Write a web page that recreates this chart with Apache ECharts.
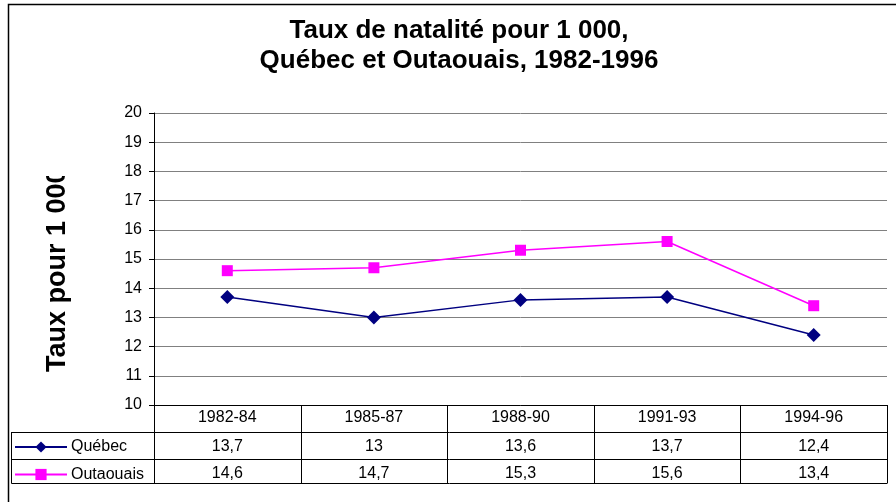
<!DOCTYPE html>
<html>
<head>
<meta charset="utf-8">
<script src="https://cdn.jsdelivr.net/npm/echarts@6/dist/echarts.min.js"></script>
<style>
html,body{margin:0;padding:0;background:#fff;}
#c{width:896px;height:502px;}
</style>
</head>
<body>
<div id="c"></div>
<script>
var categories = ['1982-84', '1985-87', '1988-90', '1991-93', '1994-96'];
var quebec = [13.7, 13.0, 13.6, 13.7, 12.4];
var outaouais = [14.6, 14.7, 15.3, 15.6, 13.4];
var seriesNames = ['Québec', 'Outaouais'];
var yTicks = [10, 11, 12, 13, 14, 15, 16, 17, 18, 19, 20];
var yTitle = 'Taux pour 1 000';

function fr(v) { return String(v).replace('.', ','); }

var FONT = '"Liberation Sans", Arial, sans-serif';
var chart = echarts.init(document.getElementById('c'), null, {renderer: 'canvas'});

var option = {
  backgroundColor: '#fff',
  animation: false,
  title: {
    text: 'Taux de natalité pour 1 000,\nQuébec et Outaouais, 1982-1996',
    left: 459, top: 16, padding: 0, textAlign: 'center',
    textStyle: {fontFamily: FONT, fontSize: 26, fontWeight: 'bold', color: '#000', lineHeight: 30}
  },
  legend: {
    orient: 'vertical', left: 14, top: 439, itemWidth: 52, itemHeight: 14, itemGap: 11.5,
    padding: 0,
    textStyle: {fontFamily: FONT, fontSize: 16, color: '#000', padding: [0, 0, 0, -1]},
    data: seriesNames
  },
  grid: {left: 154, right: 9, top: 113, bottom: 97, containLabel: false},
  xAxis: [
    {type: 'category', data: categories, boundaryGap: true, position: 'bottom',
     axisLine: {lineStyle: {color: '#000', width: 1}}, axisTick: {show: false},
     axisLabel: {fontFamily: FONT, fontSize: 16, color: '#000', margin: 5, lineHeight: 16}},
    {type: 'category', data: quebec.map(fr), boundaryGap: true, position: 'bottom',
     axisLine: {show: false}, axisTick: {show: false},
     axisLabel: {fontFamily: FONT, fontSize: 16, color: '#000', margin: 34, lineHeight: 16}},
    {type: 'category', data: outaouais.map(fr), boundaryGap: true, position: 'bottom',
     axisLine: {show: false}, axisTick: {show: false},
     axisLabel: {fontFamily: FONT, fontSize: 16, color: '#000', margin: 61, lineHeight: 16}}
  ],
  yAxis: {
    type: 'value', min: yTicks[0], max: yTicks[yTicks.length - 1], interval: 1,
    axisLine: {show: true, lineStyle: {color: '#000', width: 1}},
    axisTick: {show: true, length: 5, lineStyle: {color: '#000'}},
    axisLabel: {fontFamily: FONT, fontSize: 16, color: '#000', margin: 12},
    splitLine: {show: true, lineStyle: {color: '#808080', width: 1}}
  },
  series: [
    {name: seriesNames[0], type: 'line', data: quebec, xAxisIndex: 0,
     symbol: 'diamond', symbolSize: 14,
     lineStyle: {color: '#000080', width: 1.5}, itemStyle: {color: '#000080'}},
    {name: seriesNames[1], type: 'line', data: outaouais, xAxisIndex: 0,
     symbol: 'rect', symbolSize: 11,
     lineStyle: {color: '#FF00FF', width: 1.5}, itemStyle: {color: '#FF00FF'}}
  ]
};
chart.setOption(option);

// Data table grid, positioned from the axis scales
var n = categories.length;
var c0 = chart.convertToPixel({xAxisIndex: 0}, 0);
var c1 = chart.convertToPixel({xAxisIndex: 0}, 1);
var band = c1 - c0;
var yBase = chart.convertToPixel({yAxisIndex: 0}, yTicks[0]);
var yTop = chart.convertToPixel({yAxisIndex: 0}, yTicks[yTicks.length - 1]);
var rowH = [27, 27, 24];
var r1 = yBase + rowH[0], r2 = r1 + rowH[1], r3 = r2 + rowH[2];
var xLeftTable = 11.5;
var xs = [];
for (var i = 0; i <= n; i++) xs.push(Math.round(c0 - band / 2 + i * band) + 0.5);
var els = [];
function ln(x1, y1, x2, y2) {
  els.push({type: 'line', shape: {x1: x1, y1: y1, x2: x2, y2: y2},
            style: {stroke: '#000', lineWidth: 1}, silent: true, z: 10});
}
for (var j = 0; j < xs.length; j++) ln(xs[j], yBase, xs[j], r3);
ln(xLeftTable, r1 + 0.5, xs[n], r1 + 0.5);
ln(xLeftTable, r2 + 0.5, xs[n], r2 + 0.5);
ln(xLeftTable, r3 + 0.5, xs[n], r3 + 0.5);
ln(xLeftTable, r1, xLeftTable, r3 + 0.5);
// rotated axis title (its top end is cut off in the original)
els.push({type: 'text', x: 58, y: yBase - 33, rotation: Math.PI / 2, z: 5, silent: true,
          style: {text: yTitle, fontFamily: FONT, fontSize: 27, fontWeight: 'bold', fill: '#000',
                  textAlign: 'left', textVerticalAlign: 'middle'}});
els.push({type: 'rect', shape: {x: 30, y: yTop - 10, width: 60, height: 176 - (yTop - 10)},
          style: {fill: '#fff'}, silent: true, z: 6});
// outer chart frame
els.push({type: 'rect', shape: {x: 8.5, y: 4.5, width: 1000, height: 1000},
          style: {fill: null, stroke: '#000', lineWidth: 1.5}, silent: true, z: 10});
chart.setOption({graphic: {elements: els}});
</script>
</body>
</html>
